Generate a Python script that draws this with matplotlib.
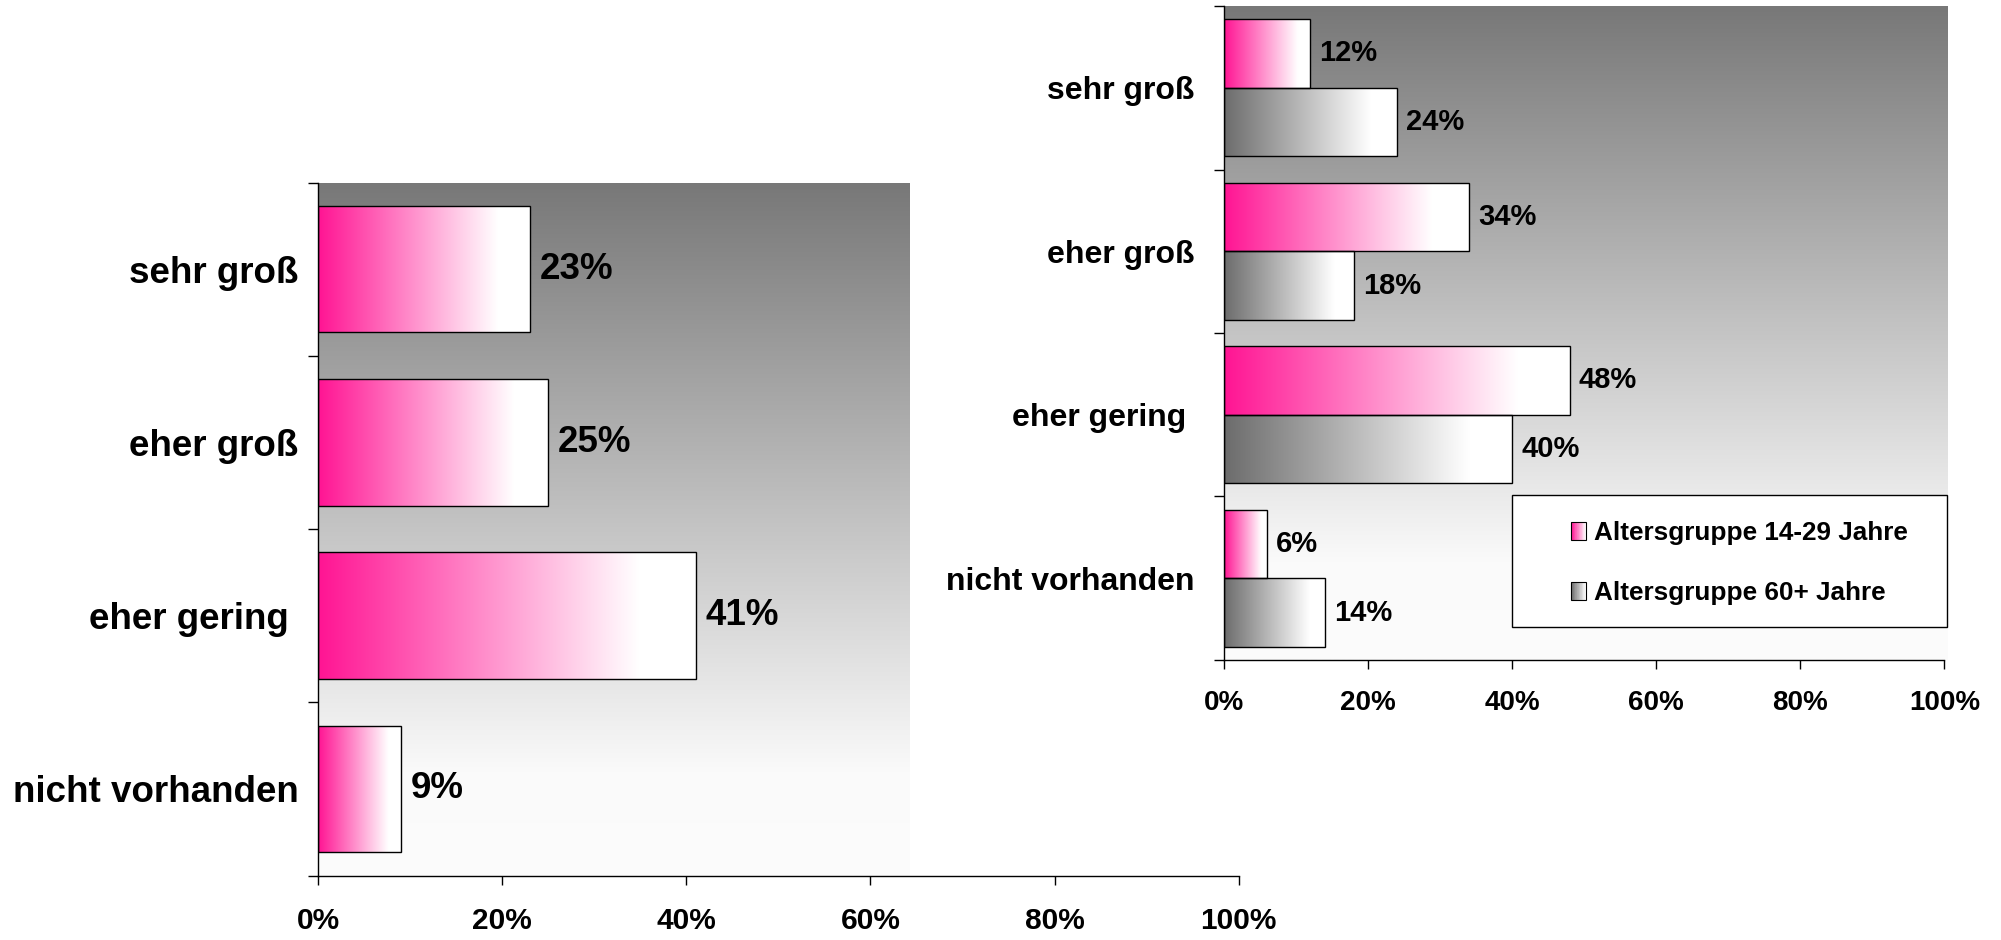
import numpy as np
import matplotlib
matplotlib.use("Agg")
import matplotlib.pyplot as plt
from matplotlib.patches import Rectangle
from matplotlib.legend_handler import HandlerBase

plt.rcParams['font.family'] = ['Liberation Sans', 'DejaVu Sans']

# ---------------- data ----------------
categories = ["sehr groß", "eher groß", "eher gering ", "nicht vorhanden"]
overall = [23, 25, 41, 9]
young = [12, 34, 48, 6]
old = [24, 18, 40, 14]
series_labels = ["Altersgruppe 14-29 Jahre", "Altersgruppe 60+ Jahre"]
xtick_values = [0, 20, 40, 60, 80, 100]
xtick_labels = [f"{v}%" for v in xtick_values]

PINK = np.array([255, 20, 147]) / 255.0
GRAY = np.array([108, 108, 108]) / 255.0


def hgrad(c0, n=256, white_at=0.85):
    t = np.linspace(0, 1, n)
    f = np.clip(t / white_at, 0, 1)
    return c0[None, :] * (1 - f[:, None]) + f[:, None]


def fill_gradient(ax, bars, c0):
    rgb = hgrad(c0)[None, :, :]
    for b in bars:
        x0, y0 = b.get_x(), b.get_y()
        w, h = b.get_width(), b.get_height()
        im = ax.imshow(rgb, extent=(x0, x0 + w, y0 + h, y0), aspect='auto',
                       zorder=2, interpolation='bilinear')
        im.set_clip_path(b)


def background(ax, xmax, n_cat):
    t = np.linspace(0, 1, 256)
    f = np.clip(t / 0.85, 0, 1)
    v = 120 / 255 + (250 / 255 - 120 / 255) * f
    v[t > 0.85] = 250 / 255 + (t[t > 0.85] - 0.85) / 0.15 * (2 / 255)
    img = np.repeat(v[:, None, None], 3, axis=2)
    ax.imshow(img, extent=(0, xmax, n_cat - 0.5, -0.5), aspect='auto',
              zorder=0, interpolation='bilinear', clip_on=False)


class GradientHandler(HandlerBase):
    def __init__(self, c0):
        super().__init__()
        self.c0 = c0

    def create_artists(self, legend, orig_handle, xdescent, ydescent,
                       width, height, fontsize, trans):
        n = 24
        cols = hgrad(self.c0, n, white_at=1.0)
        arts = []
        for i in range(n):
            arts.append(Rectangle((-xdescent + i * width / n, -ydescent),
                                  width / n + 0.05, height, facecolor=cols[i],
                                  edgecolor='none', transform=trans))
        arts.append(Rectangle((-xdescent, -ydescent), width, height,
                              facecolor='none', edgecolor='black', lw=0.8,
                              transform=trans))
        return arts


def style_axes(ax, labels, ylab_size, ylab_pad, xlab_size, xpad):
    n = len(labels)
    ax.set_facecolor('none')
    for s in ['top', 'right']:
        ax.spines[s].set_visible(False)
    for s in ['left', 'bottom']:
        ax.spines[s].set_linewidth(1.0)
        ax.spines[s].set_color('black')
    ax.set_xlim(0, 100)
    ax.set_ylim(n - 0.5, -0.5)
    ax.set_xticks(xtick_values)
    ax.set_xticklabels(xtick_labels, fontsize=xlab_size, fontweight='bold')
    ax.tick_params(axis='x', length=6.5, width=1.0, pad=xpad, direction='out')
    ax.set_yticks(np.arange(n))
    ax.set_yticklabels(labels, fontsize=ylab_size, fontweight='bold')
    ax.tick_params(axis='y', which='major', length=0, pad=ylab_pad)
    ax.set_yticks(np.arange(-0.5, n, 1.0), minor=True)
    ax.tick_params(axis='y', which='minor', length=7, width=1.0, direction='out')


fig = plt.figure(figsize=(20.01, 9.40), dpi=100)
fig.patch.set_facecolor('white')

# ---------------- left chart ----------------
axL = fig.add_axes([0.159, 0.0686, 0.460, 0.7372])
y = np.arange(len(categories))
background(axL, 64.3, len(categories))
barsL = axL.barh(y, overall, height=0.73, facecolor='none',
                 edgecolor='black', linewidth=1.0, zorder=3)
fill_gradient(axL, barsL, PINK)
axL.bar_label(barsL, labels=[f"{v}%" for v in overall], padding=7,
              fontsize=26.5, fontweight='bold')
style_axes(axL, categories, 26.5, 14, 21.5, 16)

# ---------------- right chart ----------------
axR = fig.add_axes([0.6117, 0.2979, 0.360, 0.6957])
h = 0.42
background(axR, 100.5, len(categories))
barsY = axR.barh(y - h / 2, young, height=h, facecolor='none',
                 edgecolor='black', linewidth=1.0, zorder=3)
barsO = axR.barh(y + h / 2, old, height=h, facecolor='none',
                 edgecolor='black', linewidth=1.0, zorder=3)
fill_gradient(axR, barsY, PINK)
fill_gradient(axR, barsO, GRAY)
axR.bar_label(barsY, labels=[f"{v}%" for v in young], padding=6.5,
              fontsize=21, fontweight='bold')
axR.bar_label(barsO, labels=[f"{v}%" for v in old], padding=6.5,
              fontsize=21, fontweight='bold')
style_axes(axR, categories, 23, 21, 20, 15)

# legend box
box = Rectangle((0.40, 0.0505), 0.603, 0.2017, transform=axR.transAxes,
                facecolor='white', edgecolor='black', lw=1.0, zorder=5,
                clip_on=False)
axR.add_patch(box)
leg = axR.legend([barsY, barsO], series_labels,
                 handler_map={barsY: GradientHandler(PINK),
                              barsO: GradientHandler(GRAY)},
                 loc='center left', bbox_to_anchor=(0.482, 0.1476),
                 borderaxespad=0, borderpad=0, frameon=False,
                 prop={'size': 18.8, 'weight': 'bold'},
                 handlelength=0.56, handleheight=0.68, handletextpad=0.32,
                 labelspacing=1.38)
leg.set_zorder(6)

fig.savefig("out.png", dpi=100)
